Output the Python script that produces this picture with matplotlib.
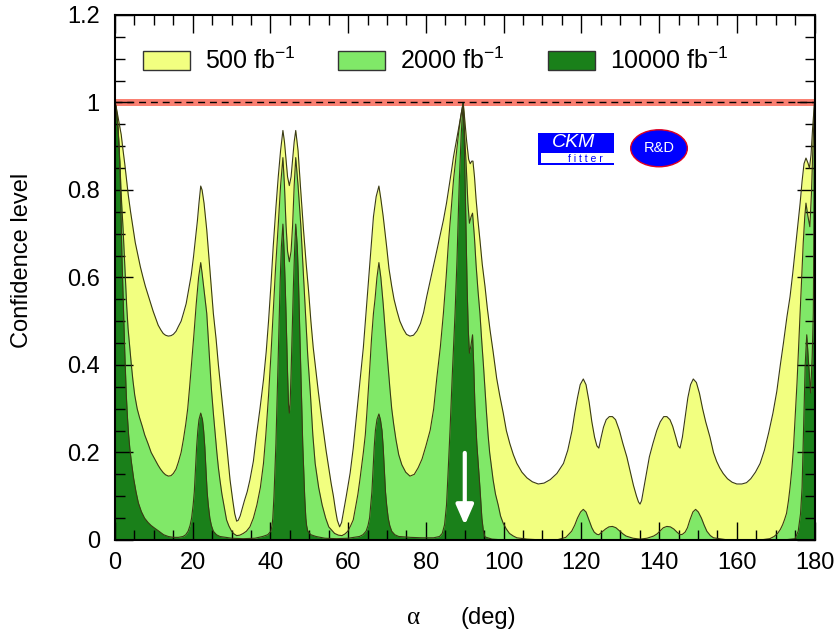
import matplotlib
matplotlib.use("Agg")
import matplotlib.pyplot as plt
from matplotlib.patches import Patch, Rectangle, Ellipse
from matplotlib.ticker import MultipleLocator, FormatStrFormatter

plt.rcParams['font.family'] = ['Liberation Sans', 'DejaVu Sans']
plt.rcParams['mathtext.fontset'] = 'custom'
plt.rcParams['mathtext.rm'] = 'Liberation Sans'
plt.rcParams['mathtext.it'] = 'Liberation Sans:italic'

# --- data (alpha in deg, CL) ---
alpha_500 = [0, 0.4, 0.8, 1.2, 1.6, 2.0, 2.5, 3.0, 3.4, 4.0, 4.6, 5.2, 5.9, 6.5, 7.2, 7.8, 8.5,
             9.2, 9.8, 10.5, 11.1, 11.8, 12.4, 13.0, 13.7, 14.4, 15.0, 15.7, 16.3, 17.0, 17.6,
             18.3, 18.9, 19.6, 20.2, 20.7, 21.2, 21.6, 22.05, 22.4, 22.9, 23.6, 24.4, 25.3,
             26.0, 26.6, 27.3, 27.9, 28.8, 29.6, 30.3, 30.8, 31.3, 31.7, 32.2, 33.3, 34.0,
             34.7, 35.6, 36.4, 37.3, 38.2, 38.9, 39.5, 40.1, 40.7, 41.4, 42.0, 42.6, 43.2,
             43.6, 44.0, 44.4, 44.85, 45.3, 45.7, 46.1, 46.5, 47.1, 47.7, 48.5, 49.2, 49.8,
             50.4, 51.0, 51.7, 52.3, 53.0, 53.6, 54.3, 54.9, 55.6, 56.2, 56.7, 57.2, 57.8,
             58.3, 58.9, 59.5, 60.5, 61.3, 62.2, 63.0, 63.9, 64.6, 65.3, 65.9, 66.5, 67.2,
             67.9, 68.4, 69.0, 69.9, 70.5, 71.2, 71.8, 72.5, 73.3, 74.2, 75.0, 75.9, 76.8,
             77.7, 78.6, 79.4, 80.2, 81.3, 82.4, 83.5, 84.5, 85.3, 86.0, 86.6, 87.1, 87.8,
             88.4, 89.0, 89.6, 90.0, 90.5, 91.0, 91.4, 91.8, 92.1, 92.5, 92.9, 93.4, 93.9,
             94.5, 95.2, 95.8, 96.5, 97.3, 98.2, 99.0, 99.9, 100.7, 101.6, 102.5, 103.4,
             104.7, 106.0, 107.4, 108.9, 110.4, 112.0, 113.7, 115.4, 116.5, 117.6, 118.3,
             119.0, 119.7, 120.5, 121.2, 122.0, 122.7, 123.4, 124.0, 124.5, 125.1, 125.7,
             126.4, 127.2, 128.0, 128.8, 129.8, 130.7, 131.7, 132.6, 133.4, 134.2, 134.7,
             135.1, 135.5, 136.1, 136.7, 137.5, 138.4, 139.4, 140.3, 141.2, 142.0, 142.8,
             143.5, 144.3, 144.9, 145.4, 146.0, 146.7, 147.4, 148.1, 148.8, 149.6, 150.4,
             151.2, 152.0, 153.1, 154.0, 154.8, 155.6, 156.5, 157.6, 158.8, 160.0, 161.3,
             162.5, 163.6, 164.8, 166.0, 167.1, 168.2, 169.3, 170.3, 171.2, 172.0, 172.9,
             173.7, 174.4, 175.0, 175.7, 176.3, 176.8, 177.3, 177.8, 178.3, 178.7, 179.1,
             179.5, 180]
cl_500 = [1.0, 0.985, 0.965, 0.945, 0.926, 0.895, 0.86, 0.82, 0.789, 0.75, 0.715, 0.68, 0.651,
          0.625, 0.60, 0.58, 0.56, 0.54, 0.523, 0.506, 0.491, 0.48, 0.472, 0.468, 0.466, 0.467,
          0.47, 0.477, 0.488, 0.50, 0.518, 0.54, 0.57, 0.605, 0.648, 0.69, 0.73, 0.77, 0.809,
          0.80, 0.77, 0.709, 0.62, 0.518, 0.46, 0.40, 0.34, 0.29, 0.21, 0.137, 0.09, 0.06,
          0.043, 0.045, 0.055, 0.09, 0.11, 0.137, 0.18, 0.24, 0.30, 0.366, 0.43, 0.50, 0.58,
          0.67, 0.76, 0.83, 0.89, 0.936, 0.91, 0.87, 0.83, 0.81, 0.83, 0.87, 0.91, 0.936,
          0.89, 0.81, 0.709, 0.63, 0.57, 0.50, 0.44, 0.385, 0.34, 0.29, 0.25, 0.205, 0.17,
          0.13, 0.10, 0.07, 0.045, 0.03, 0.04, 0.07, 0.10, 0.153, 0.21, 0.29, 0.36, 0.44,
          0.52, 0.60, 0.67, 0.739, 0.785, 0.809, 0.78, 0.74, 0.67, 0.62, 0.58, 0.55, 0.525,
          0.50, 0.482, 0.47, 0.466, 0.468, 0.478, 0.495, 0.52, 0.556, 0.60, 0.645, 0.69,
          0.731, 0.77, 0.81, 0.845, 0.876, 0.91, 0.94, 0.97, 1.0, 0.96, 0.91, 0.87, 0.86,
          0.866, 0.866, 0.83, 0.78, 0.73, 0.686, 0.63, 0.58, 0.53, 0.48, 0.43, 0.37, 0.33,
          0.29, 0.25, 0.22, 0.195, 0.175, 0.155, 0.142, 0.133, 0.128, 0.13, 0.138, 0.152,
          0.175, 0.205, 0.25, 0.29, 0.325, 0.355, 0.368, 0.355, 0.315, 0.27, 0.235, 0.215,
          0.21, 0.235, 0.258, 0.275, 0.282, 0.282, 0.275, 0.25, 0.22, 0.19, 0.155, 0.125,
          0.10, 0.087, 0.082, 0.09, 0.12, 0.15, 0.19, 0.22, 0.25, 0.27, 0.282, 0.282, 0.275,
          0.26, 0.235, 0.215, 0.21, 0.235, 0.28, 0.325, 0.355, 0.368, 0.36, 0.335, 0.30,
          0.27, 0.235, 0.20, 0.18, 0.165, 0.152, 0.14, 0.132, 0.128, 0.128, 0.131, 0.14,
          0.155, 0.175, 0.205, 0.245, 0.29, 0.34, 0.40, 0.45, 0.51, 0.556, 0.61, 0.66, 0.72,
          0.77, 0.82, 0.86, 0.873, 0.862, 0.85, 0.88, 0.94, 1.0]

alpha_2000 = [0, 0.4, 0.8, 1.1, 1.4, 1.7, 2.06, 2.4, 2.7, 3.0, 3.35, 3.8, 4.2, 4.6, 5.07, 5.7,
              6.3, 7.0, 7.64, 8.5, 9.3, 10.2, 11.07, 11.7, 12.4, 13.0, 13.72, 14.4, 15.0,
              15.7, 16.3, 17.0, 17.58, 18.2, 18.7, 19.2, 19.7, 20.3, 20.9, 21.5, 22.05, 22.4,
              22.8, 23.2, 23.6, 24.0, 24.4, 24.8, 25.3, 25.8, 26.2, 26.6, 27.0, 27.5, 27.9,
              28.3, 28.7, 29.3, 30.0, 30.6, 31.3, 32.1, 33.0, 33.8, 34.7, 35.6, 36.5, 37.4,
              38.2, 38.8, 39.5, 40.1, 40.7, 41.3, 42.0, 42.6, 43.2, 43.6, 44.0, 44.4, 44.85,
              45.3, 45.7, 46.1, 46.5, 47.1, 47.8, 48.4, 49.0, 49.6, 50.3, 50.9, 51.5, 52.4,
              53.3, 54.2, 55.0, 56.5, 57.5, 58.4, 59.2, 59.9, 60.6, 61.3, 61.7, 62.1, 62.5,
              63.0, 63.4, 63.9, 64.4, 64.8, 65.2, 65.6, 66.0, 66.5, 66.9, 67.4, 67.9, 68.4,
              69.0, 69.6, 70.2, 70.7, 71.2, 71.7, 72.3, 73.0, 73.8, 74.8, 75.9, 77.0, 78.0,
              79.0, 80.0, 81.1, 82.0, 82.8, 83.7, 84.5, 85.2, 85.8, 86.5, 87.1, 87.8, 88.4,
              89.0, 89.6, 90.0, 90.4, 90.8, 91.2, 91.6, 92.0, 92.5, 92.9, 93.4, 93.9, 94.4,
              94.8, 95.2, 95.6, 96.0, 96.4, 96.9, 97.3, 97.9, 98.6, 99.2, 99.9, 100.7, 101.5,
              102.5, 103.4, 106, 110, 114, 116, 117.5, 118.3, 119.0, 119.8, 120.5, 121.2,
              122.0, 122.7, 123.3, 124.0, 124.5, 125.3, 126.2, 127.1, 128.0, 128.9, 129.8,
              130.7, 131.5, 133.3, 135.1, 136.9, 138.6, 139.5, 140.3, 141.1, 142.0, 142.9,
              143.8, 144.6, 145.4, 146.0, 146.7, 147.3, 147.9, 148.7, 149.4, 150.1, 150.9,
              151.6, 152.3, 153.2, 154.0, 157, 162, 166, 168.5, 169.6, 170.5, 171.2, 171.8,
              172.3, 172.8, 173.3, 173.7, 174.2, 174.6, 175.0, 175.5, 175.9, 176.3, 176.7,
              177.1, 177.5, 177.8, 178.3, 178.8, 179.2, 179.6, 180]
cl_2000 = [1.0, 0.975, 0.94, 0.89, 0.83, 0.77, 0.713, 0.65, 0.59, 0.535, 0.484, 0.44, 0.40,
           0.365, 0.331, 0.30, 0.28, 0.26, 0.24, 0.22, 0.20, 0.185, 0.171, 0.162, 0.154, 0.149,
           0.146, 0.147, 0.152, 0.162, 0.178, 0.20, 0.229, 0.265, 0.30, 0.35, 0.404, 0.47,
           0.54, 0.60, 0.634, 0.61, 0.58, 0.55, 0.518, 0.46, 0.40, 0.345, 0.29, 0.24, 0.20,
           0.165, 0.137, 0.105, 0.085, 0.065, 0.046, 0.032, 0.02, 0.014, 0.01, 0.011, 0.015,
           0.02, 0.03, 0.05, 0.08, 0.12, 0.175, 0.24, 0.33, 0.42, 0.518, 0.62, 0.72, 0.81,
           0.874, 0.81, 0.72, 0.66, 0.636, 0.66, 0.72, 0.81, 0.874, 0.81, 0.72, 0.62, 0.518,
           0.42, 0.33, 0.24, 0.175, 0.12, 0.08, 0.05, 0.03, 0.015, 0.011, 0.01, 0.014, 0.02,
           0.032, 0.046, 0.065, 0.085, 0.105, 0.137, 0.165, 0.20, 0.24, 0.29, 0.345, 0.40,
           0.46, 0.518, 0.55, 0.60, 0.634, 0.60, 0.54, 0.47, 0.404, 0.35, 0.30, 0.265, 0.229,
           0.195, 0.172, 0.155, 0.146, 0.15, 0.165, 0.185, 0.215, 0.251, 0.30, 0.37, 0.44,
           0.518, 0.60, 0.68, 0.755, 0.823, 0.88, 0.93, 0.97, 1.0, 0.92, 0.85, 0.77, 0.724,
           0.738, 0.747, 0.69, 0.63, 0.57, 0.518, 0.45, 0.40, 0.345, 0.29, 0.24, 0.20, 0.165,
           0.137, 0.105, 0.08, 0.055, 0.038, 0.025, 0.015, 0.009, 0.005, 0.002, 0.0, 0.001,
           0.006, 0.02, 0.034, 0.05, 0.064, 0.07, 0.064, 0.045, 0.028, 0.018, 0.013, 0.012,
           0.018, 0.025, 0.03, 0.031, 0.028, 0.021, 0.014, 0.009, 0.004, 0.002, 0.004, 0.009,
           0.014, 0.021, 0.028, 0.031, 0.03, 0.025, 0.018, 0.012, 0.013, 0.018, 0.028, 0.045,
           0.064, 0.07, 0.064, 0.05, 0.034, 0.02, 0.01, 0.005, 0.001, 0.0, 0.0, 0.003, 0.008,
           0.015, 0.024, 0.035, 0.047, 0.061, 0.09, 0.12, 0.165, 0.213, 0.28, 0.36, 0.44,
           0.518, 0.60, 0.68, 0.74, 0.77, 0.74, 0.716, 0.79, 0.90, 1.0]

alpha_10000 = [0, 0.3, 0.6, 0.9, 1.21, 1.4, 1.6, 1.8, 2.06, 2.3, 2.5, 2.7, 2.9, 3.2, 3.5, 3.8,
               4.2, 4.8, 5.4, 6.0, 6.77, 7.6, 8.5, 9.3, 10.2, 11.3, 12.5, 13.7, 15, 16.3, 17.5,
               18.2, 18.8, 19.3, 19.7, 20.1, 20.4, 20.7, 21.0, 21.3, 21.6, 22.05, 22.5, 22.8,
               23.1, 23.4, 23.7, 24.0, 24.4, 24.8, 25.3, 26.1, 27, 30, 33, 36, 38.0, 39.3,
               40.1, 40.4, 40.6, 40.9, 41.1, 41.4, 41.6, 42.0, 42.5, 42.8, 43.2, 43.5, 43.8,
               44.0, 44.4, 44.65, 44.85, 45.05, 45.3, 45.7, 45.9, 46.2, 46.5, 46.9, 47.2, 47.7,
               48.1, 48.3, 48.6, 48.8, 49.1, 49.3, 49.6, 50.4, 51.7, 54, 57, 60, 62.9, 63.8,
               64.6, 65.1, 65.5, 65.8, 66.1, 66.4, 66.7, 67.0, 67.4, 67.9, 68.3, 68.7, 69.0,
               69.3, 69.6, 69.9, 70.3, 70.7, 71.2, 72.0, 73, 76, 79, 82, 83.5, 84.2, 84.8,
               85.3, 85.7, 86.2, 86.8, 87.5, 88.0, 88.6, 89.1, 89.6, 89.9, 90.3, 90.6, 90.9,
               91.2, 91.6, 92.0, 92.3, 92.6, 93.1, 93.5, 93.9, 94.4, 94.8, 95.2, 97, 100, 110,
               130, 150, 165, 172, 175.0, 175.8, 176.4, 176.8, 177.2, 177.6, 178.0, 178.5,
               179.0, 179.4, 179.7, 180]
cl_10000 = [1.0, 0.99, 0.96, 0.92, 0.864, 0.80, 0.72, 0.64, 0.56, 0.49, 0.43, 0.38, 0.331,
            0.28, 0.24, 0.21, 0.179, 0.14, 0.11, 0.085, 0.065, 0.05, 0.04, 0.033, 0.027, 0.02,
            0.012, 0.008, 0.006, 0.006, 0.008, 0.012, 0.02, 0.033, 0.05, 0.08, 0.11, 0.16,
            0.213, 0.25, 0.275, 0.29, 0.275, 0.25, 0.213, 0.16, 0.11, 0.08, 0.05, 0.033, 0.02,
            0.012, 0.008, 0.004, 0.003, 0.004, 0.008, 0.012, 0.02, 0.033, 0.05, 0.10, 0.15,
            0.22, 0.29, 0.42, 0.594, 0.67, 0.722, 0.66, 0.58, 0.518, 0.38, 0.31, 0.29, 0.31,
            0.38, 0.518, 0.58, 0.66, 0.722, 0.67, 0.594, 0.42, 0.29, 0.22, 0.15, 0.10, 0.05,
            0.033, 0.02, 0.012, 0.008, 0.004, 0.003, 0.004, 0.008, 0.012, 0.02, 0.033, 0.05,
            0.08, 0.11, 0.16, 0.213, 0.25, 0.275, 0.288, 0.275, 0.25, 0.213, 0.16, 0.11, 0.08,
            0.05, 0.033, 0.02, 0.012, 0.008, 0.006, 0.005, 0.005, 0.008, 0.015, 0.035, 0.08,
            0.153, 0.25, 0.38, 0.518, 0.64, 0.823, 0.93, 1.0, 0.90, 0.72, 0.58, 0.48, 0.427,
            0.445, 0.469, 0.40, 0.31, 0.22, 0.17, 0.12, 0.05, 0.02, 0.007, 0.002, 0.0, 0.0,
            0.0, 0.0, 0.0, 0.0, 0.003, 0.02, 0.06, 0.12, 0.26, 0.40, 0.469, 0.40, 0.336, 0.42,
            0.52, 1.0]

labels = ['500 fb$^{-1}$', '2000 fb$^{-1}$', '10000 fb$^{-1}$']
colors = ['#f2ff80', '#80e868', '#1a801a']
edge = '#3a3a14'

fig = plt.figure(figsize=(8.36, 6.37), dpi=100)
ax = fig.add_axes([0.1376, 0.1523, 0.8367, 0.8242])

ax.axhspan(0.993, 1.007, color='#fa8072', lw=0, zorder=0.5)

series = [(alpha_500, cl_500), (alpha_2000, cl_2000), (alpha_10000, cl_10000)]
for (xs, ys), c in zip(series, colors):
    ax.fill_between(xs, 0, ys, color=c, lw=0)
    ax.plot(xs, ys, color=edge, lw=0.8)

ax.axhline(1.0, color='black', ls=(0, (5, 3.5)), lw=1, zorder=3)

# arrow at alpha = 90
ax.annotate('', xy=(90, 0.034), xytext=(90, 0.199),
            arrowprops=dict(arrowstyle='-|>,head_width=0.35,head_length=0.8',
                            color='white', lw=3, mutation_scale=15, shrinkA=0, shrinkB=0))

ax.set_xlim(0, 180)
ax.set_ylim(0, 1.2)
ax.xaxis.set_major_locator(MultipleLocator(20))
ax.xaxis.set_minor_locator(MultipleLocator(5))
ax.yaxis.set_major_locator(MultipleLocator(0.2))
ax.yaxis.set_minor_locator(MultipleLocator(0.05))
ax.yaxis.set_major_formatter(FormatStrFormatter('%g'))
ax.tick_params(which='both', direction='in', top=True, right=True, width=1, labelsize=17)
ax.tick_params(which='major', length=13)
ax.tick_params(which='minor', length=7)
ax.tick_params(axis='x', pad=9)
ax.tick_params(axis='y', pad=11)
for s in ax.spines.values():
    s.set_linewidth(1.5)

handles = [Patch(facecolor=c, edgecolor='#333333', lw=1) for c in colors]
ax.legend(handles, labels, loc='center left', bbox_to_anchor=(0.04, 0.913), ncol=3,
          frameon=False, fontsize=18, handlelength=1.88, handleheight=0.8,
          handletextpad=0.6, columnspacing=1.7, borderpad=0, borderaxespad=0)

# logos
ax.add_patch(Rectangle((0.6051, 0.7143), 0.1082, 0.0604, transform=ax.transAxes,
                       facecolor='#0000ff', lw=0, zorder=4))
ax.add_patch(Rectangle((0.6085, 0.7175), 0.1048, 0.0187, transform=ax.transAxes,
                       facecolor='white', lw=0, zorder=4))
ax.text(0.655, 0.757, 'CKM', transform=ax.transAxes, color='white', fontsize=14,
        style='italic', ha='center', va='center', zorder=5)
ax.text(0.6726, 0.7262, 'f i t t e r', transform=ax.transAxes, color='#0000ff', fontsize=7.5,
        ha='center', va='center', zorder=5)
ax.add_patch(Ellipse((0.7777, 0.7461), 0.081, 0.0705, transform=ax.transAxes,
                     facecolor='#0000ff', edgecolor='#e00020', lw=1, zorder=4))
ax.text(0.7777, 0.7461, 'R&D', transform=ax.transAxes, color='white', fontsize=10.5,
        ha='center', va='center', zorder=5)

fig.text(22.5 / 836, 1 - 260 / 637, 'Confidence level', rotation=90, fontsize=17,
         ha='center', va='center')
fig.text(414 / 836, 1 - 618 / 637, 'α', family='Liberation Serif', fontsize=18,
         ha='center', va='center')
fig.text(488.5 / 836, 1 - 618 / 637, '(deg)', fontsize=17, ha='center', va='center')

fig.savefig('out.png', dpi=100)
